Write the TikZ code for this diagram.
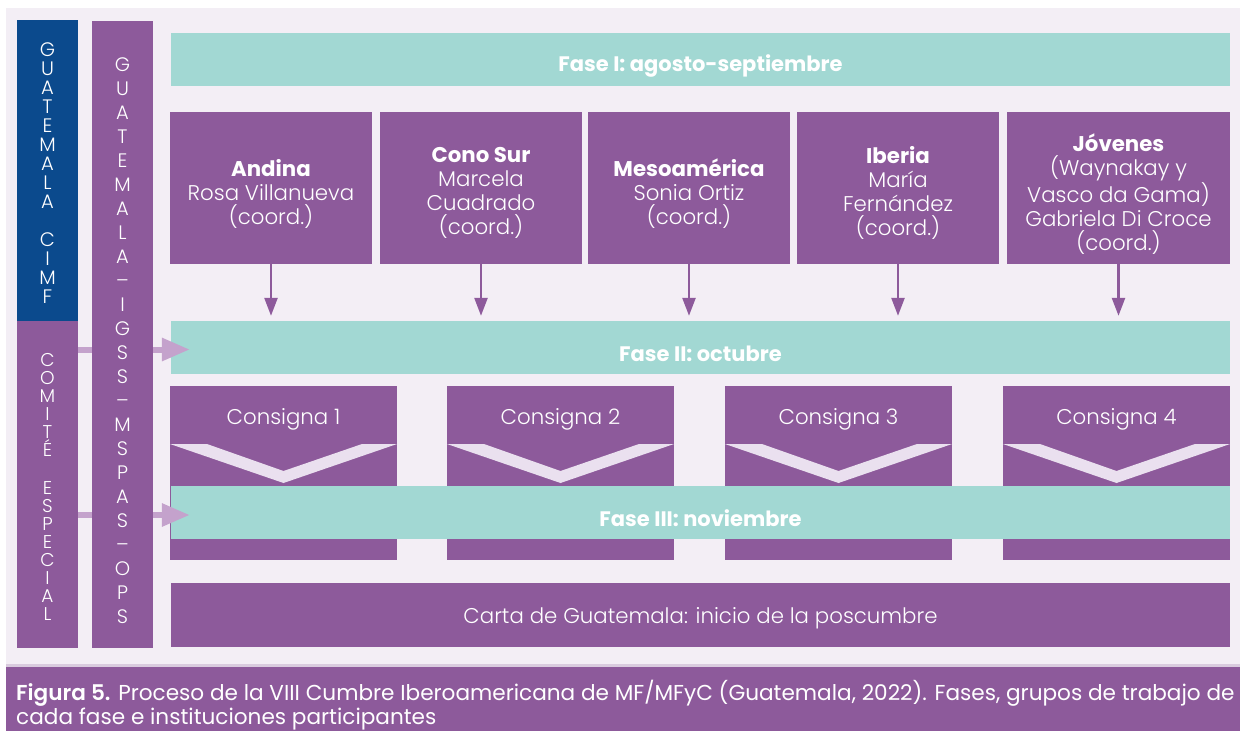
\documentclass[tikz,border=0pt]{standalone}
\usepackage{fontspec}
\setmainfont{Poppins}[UprightFont=* Light, BoldFont=* Bold]
\newfontfamily\capfont{Poppins}[BoldFont=* SemiBold]
\usetikzlibrary{arrows.meta}
\definecolor{purp}{HTML}{8D5A9B}
\definecolor{teal}{HTML}{A2D8D3}
\definecolor{navy}{HTML}{0B4A8D}
\definecolor{panel}{HTML}{F3EEF5}
\definecolor{chev}{HTML}{EAE0EF}
\definecolor{lightarr}{HTML}{C4A2CC}
\definecolor{capline}{HTML}{D9CBDE}
\tikzset{
  box/.style={fill=purp, draw=none, inner sep=0pt},
  phase/.style={fill=teal, draw=none, inner sep=0pt, minimum width=1059pt, minimum height=53pt},
  btext/.style={text=white, align=center, inner sep=0pt, font=\fontsize{21.3}{24}\selectfont},
  ptext/.style={text=white, inner sep=0pt, font=\bfseries\fontsize{21}{24}\selectfont},
  vtext/.style={text=white, align=center, inner sep=0pt},
  darr/.style={draw=purp, line width=2.5pt, shorten >=5pt, -{Triangle[length=18pt,width=13pt]}},
  larr/.style={draw=lightarr, line width=6pt, -{Triangle[length=28pt,width=22pt]}},
  chevron/.style={fill=chev, draw=none}
}
\begin{document}
\begin{tikzpicture}[x=1pt,y=-1pt]
\useasboundingbox (0,0) rectangle (1240,731);
\fill[white] (0,0) rectangle (1240,731);
\fill[panel] (6,8) rectangle (1240,666);
\fill[capline] (6,664) rectangle (1240,667);
\fill[purp] (6,667) rectangle (1240,731);

% left column 1
\node[box, fill=navy, minimum width=61pt, minimum height=301pt] (cimf) at (47.5,170.5) {};
\node[box, minimum width=61pt, minimum height=327pt] (comite) at (47.5,484.5) {};
\node[vtext, font=\fontsize{19.5}{19}\selectfont] (cimft) at (47.5,173) {G\\U\\A\\T\\E\\M\\A\\L\\A\\[19pt]C\\I\\M\\F};
\node[vtext, font=\fontsize{18.5}{18}\selectfont] (comitet) at (47.5,487) {C\\O\\M\\I\\T\\É\\[20pt]E\\S\\P\\E\\C\\I\\A\\L};

% phase bars
\node[phase] (f1) at (700.5,59.5) {};
\node[ptext] (f1t) at (700.5,65.5) {Fase I: agosto-septiembre};
\node[phase] (f2) at (700.5,347.5) {};
\node[ptext] (f2t) at (700.5,353.5) {Fase II: octubre};

% group boxes
\foreach \n/\cx/\w in {1/271/202,2/481/202,3/689/202,4/898/202,5/1118.5/223}{
  \node[box, minimum width=\w pt, minimum height=152pt] (g\n) at (\cx,188) {};
}
\node[btext] (g1t) at (g1.center) [yshift=-6pt] {\textbf{Andina}\\Rosa Villanueva\\(coord.)};
\node[btext] (g2t) at (g2.center) [yshift=-5pt] {\textbf{Cono Sur}\\Marcela\\Cuadrado\\(coord.)};
\node[btext] (g3t) at (g3.center) [yshift=-6pt] {\textbf{Mesoamérica}\\Sonia Ortiz\\(coord.)};
\node[btext] (g4t) at (g4.center) [yshift=-5pt] {\textbf{Iberia}\\María\\Fernández\\(coord.)};
\node[btext] (g5t) at (g5.center) [yshift=-6pt] {\textbf{Jóvenes}\\(Waynakay y\\Vasco da Gama)\\Gabriela Di Croce\\(coord.)};

\foreach \g in {g1,g2,g3,g4,g5}{
  \draw[darr] (\g.south) -- (\g.south |- f2.north);
}

% consigna boxes
\foreach \n/\cx in {1/283.5,2/560.5,3/838.5,4/1116.5}{
  \node[box, minimum width=227pt, minimum height=174pt] (c\n) at (\cx,473) {};
  \node[btext] (c\n t) at (\cx,419) {Consigna \n};
  \fill[chevron] (\cx-113.5,444) -- (\cx-76.5,444) -- (\cx,471) -- (\cx+78.5,444) -- (\cx+113.5,444) -- (\cx,483) -- cycle;
}

\node[phase] (f3) at (700.5,512.5) {};
\node[ptext] (f3t) at (700.5,518.5) {Fase III: noviembre};

\node[box, minimum width=1059pt, minimum height=64pt] (carta) at (700.5,615) {};
\node[btext] (cartat) at (700.5,618) {Carta de Guatemala: inicio de la poscumbre};

% light arrows (behind column 2)
\draw[larr] (comite.east |- 0,349.5) -- ([xshift=19pt]f2.west |- 0,349.5);
\draw[larr] (comite.east |- 0,515) -- ([xshift=19pt]f3.west |- 0,515);

% column 2
\node[box, minimum width=61pt, minimum height=627pt] (col2) at (122.5,334.5) {};
\node[vtext, font=\fontsize{19.5}{24}\selectfont] (col2t) at (122.5,341) {G\\U\\A\\T\\E\\M\\A\\L\\A\\–\\I\\G\\S\\S\\–\\M\\S\\P\\A\\S\\–\\O\\P\\S};

% caption
\node[anchor=west, text=white, align=left, inner sep=0pt, font=\capfont\fontsize{21.6}{22}\selectfont] (cap) at (16,705) {\textbf{Figura 5.} Proceso de la VIII Cumbre Iberoamericana de MF/MFyC (Guatemala, 2022). Fases, grupos de trabajo de\\cada fase e instituciones participantes};
\end{tikzpicture}
\end{document}
